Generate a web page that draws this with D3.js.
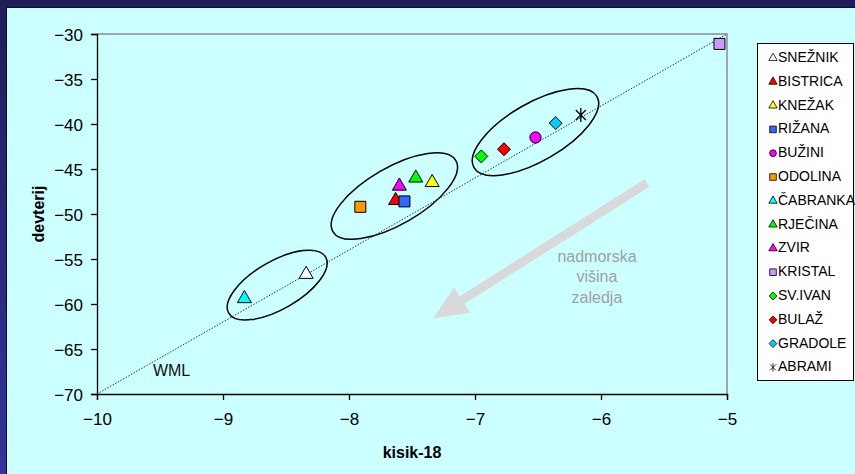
<!DOCTYPE html>
<html>
<head>
<meta charset="utf-8">
<script src="https://d3js.org/d3.v7.min.js"></script>
<style>
  body { margin: 0; background: #ccffff; }
  text { font-family: Arial, "Liberation Sans", sans-serif; }
</style>
</head>
<body>
<svg id="chart" width="855" height="474"></svg>
<script>
// station names, isotope values (d18O, dD) and marker looks
var stations = ["SNEŽNIK", "BISTRICA", "KNEŽAK", "RIŽANA", "BUŽINI", "ODOLINA", "ČABRANKA",
                "RJEČINA", "ZVIR", "KRISTAL", "SV.IVAN", "BULAŽ", "GRADOLE", "ABRAMI"];
var kisik = [-8.34, -7.63, -7.34, -7.56, -6.52, -7.91, -8.83, -7.47, -7.60, -5.06, -6.95, -6.77, -6.36, -6.16];
var devterij = [-56.7, -48.5, -46.5, -48.6, -41.5, -49.2, -59.4, -46.0, -46.9, -31.1, -43.6, -42.8, -39.9, -39.0];
var shapes = ["tri", "tri", "tri", "sq", "circ", "sq", "tri", "tri", "tri", "sq", "dia", "dia", "dia", "star"];
var fills = ["#ffffff", "#ff0000", "#ffff00", "#3366ff", "#ff00ff", "#ff9900", "#00ffff",
             "#00ff00", "#ff00ff", "#cc99ff", "#00ff00", "#ff0000", "#00ccff", "none"];

var xTicks = [-10, -9, -8, -7, -6, -5];
var yTicks = [-30, -35, -40, -45, -50, -55, -60, -65, -70];

// world meteoric line dD = 8*d18O + 10
var wmlX = [-10, -5];

// grouping ellipses: centre in data units
var groupX = [-8.57, -7.64, -6.52];
var groupY = [-57.9, -48.0, -40.9];

var svg = d3.select("#chart");

// frame
var defs = svg.append("defs");
var grad = defs.append("linearGradient").attr("id", "side").attr("x1", 0).attr("y1", 0).attr("x2", 0).attr("y2", 1);
grad.append("stop").attr("offset", "0%").attr("stop-color", "#201d5a");
grad.append("stop").attr("offset", "100%").attr("stop-color", "#333399");
svg.append("rect").attr("width", 855).attr("height", 474).attr("fill", "#ccffff");
svg.append("rect").attr("width", 855).attr("height", 7).attr("fill", "#1f1c5a");
svg.append("rect").attr("width", 6).attr("height", 474).attr("fill", "url(#side)");
svg.append("line").attr("x1", 6.5).attr("x2", 6.5).attr("y1", 7).attr("y2", 474).attr("stroke", "#0b0b30").attr("stroke-width", 1);
svg.append("line").attr("x1", 6).attr("x2", 855).attr("y1", 7.5).attr("y2", 7.5).attr("stroke", "#0b0b30").attr("stroke-width", 1);

var x = d3.scaleLinear().domain([-10, -5]).range([97, 727]);
var y = d3.scaleLinear().domain([-70, -30]).range([394, 34]);

// plot border (top/right gray)
svg.append("path")
  .attr("d", "M" + x(-10) + "," + y(-30) + "H" + x(-5) + "V" + y(-70))
  .attr("fill", "none").attr("stroke", "#8c8c8c").attr("stroke-width", 1.5);

// axes
var yAxis = svg.append("g").attr("transform", "translate(" + x(-10) + ",0)")
  .call(d3.axisLeft(y).tickValues(yTicks).tickSize(6).tickPadding(8).tickFormat(d3.format("d")));
var xAxis = svg.append("g").attr("transform", "translate(0," + y(-70) + ")")
  .call(d3.axisBottom(x).tickValues(xTicks).tickSize(6).tickPadding(13).tickFormat(d3.format("d")));
[xAxis, yAxis].forEach(function(a) {
  a.select(".domain").attr("stroke", "#000").attr("stroke-width", 1.3);
  a.selectAll(".tick line").attr("stroke", "#000").attr("stroke-width", 1.3);
  a.selectAll(".tick text").attr("fill", "#000").style("font-size", "17px")
    .style("font-family", "Arial, 'Liberation Sans', sans-serif");
});
yAxis.selectAll(".tick text").attr("dy", "0.36em");

// axis titles
svg.append("text").attr("x", 412).attr("y", 458).attr("text-anchor", "middle")
  .style("font-size", "16px").style("font-weight", "bold").text("kisik-18");
svg.append("text").attr("transform", "translate(44,214) rotate(-90)").attr("text-anchor", "middle")
  .style("font-size", "16px").style("font-weight", "bold").text("devterij");

// WML line
svg.append("line")
  .attr("x1", x(wmlX[0])).attr("y1", y(8 * wmlX[0] + 10))
  .attr("x2", x(wmlX[1])).attr("y2", y(8 * wmlX[1] + 10))
  .attr("stroke", "#333").attr("stroke-width", 1).attr("stroke-dasharray", "1.5,1.5");
svg.append("text").attr("x", x(-9.556)).attr("y", y(-67.4)).attr("dy", "0.36em")
  .style("font-size", "16px").attr("fill", "#111").text("WML");

// ellipses round groups
var ellR = [[56, 24], [71, 28.5], [71, 29]];
groupX.forEach(function(gx, i) {
  svg.append("ellipse")
    .attr("transform", "translate(" + x(gx) + "," + y(groupY[i]) + ") rotate(-30)")
    .attr("rx", ellR[i][0]).attr("ry", ellR[i][1])
    .attr("fill", "none").attr("stroke", "#000").attr("stroke-width", 1.5);
});

// altitude arrow
var a0 = [x(-5.635), y(-46.56)], a1 = [x(-7.331), y(-61.59)];
var ang = Math.atan2(a1[1] - a0[1], a1[0] - a0[0]);
var headLen = 34, headW = 15;
var bx = a1[0] - headLen * Math.cos(ang), by = a1[1] - headLen * Math.sin(ang);
svg.append("line").attr("x1", a0[0]).attr("y1", a0[1]).attr("x2", bx).attr("y2", by)
  .attr("stroke", "#d9d9d9").attr("stroke-width", 9);
svg.append("path")
  .attr("d", "M" + a1[0] + "," + a1[1] +
    "L" + (bx + headW * Math.sin(ang)) + "," + (by - headW * Math.cos(ang)) +
    "L" + (bx - headW * Math.sin(ang)) + "," + (by + headW * Math.cos(ang)) + "Z")
  .attr("fill", "#d9d9d9");
var note = ["nadmorska", "višina", "zaledja"];
svg.append("text").attr("text-anchor", "middle").style("font-size", "16px").attr("fill", "#a0a0a0")
  .selectAll("tspan").data(note).join("tspan")
  .attr("x", x(-6.032)).attr("y", function(d, i) { return y(-54.67) + i * 20.5; }).attr("dy", "0.36em")
  .text(function(d) { return d; });

// marker path
function marker(shape, s) {
  if (shape === "tri") return d3.symbol(d3.symbolTriangle, 85 * s * s)();
  if (shape === "sq") return d3.symbol(d3.symbolSquare, 121 * s * s)();
  if (shape === "circ") return d3.symbol(d3.symbolCircle, 100 * s * s)();
  if (shape === "dia") { var h = 6.5 * s; return "M0," + (-h) + "L" + h + ",0L0," + h + "L" + (-h) + ",0Z"; }
  var r = 7 * s, q = r * 0.72;
  return "M" + (-q) + "," + (-q) + "L" + q + "," + q + "M" + q + "," + (-q) + "L" + (-q) + "," + q +
         "M0," + (-r) + "L0," + r;
}

svg.append("g").selectAll("path").data(stations).join("path")
  .attr("transform", function(d, i) { return "translate(" + x(kisik[i]) + "," + y(devterij[i]) + ")"; })
  .attr("d", function(d, i) { return marker(shapes[i], 1); })
  .attr("fill", function(d, i) { return fills[i]; })
  .attr("stroke", "#000").attr("stroke-width", function(d, i) { return shapes[i] === "star" ? 1.3 : 1; });

// legend
var lg = svg.append("g");
lg.append("rect").attr("x", 757.5).attr("y", 43.5).attr("width", 96).attr("height", 337)
  .attr("fill", "#fff").attr("stroke", "#000").attr("stroke-width", 1);
var rows = lg.selectAll("g.row").data(stations).join("g").attr("class", "row")
  .attr("transform", function(d, i) { return "translate(0," + (57 + i * 23.8) + ")"; });
rows.append("path")
  .attr("transform", "translate(773,1)")
  .attr("d", function(d, i) { return marker(shapes[i], 0.6); })
  .attr("fill", function(d, i) { return fills[i]; })
  .attr("stroke", "#000").attr("stroke-width", 0.8);
rows.append("text").attr("x", 778).attr("dy", "0.36em").style("font-size", "14px").attr("fill", "#000")
  .text(function(d) { return d; });
</script>
</body>
</html>
